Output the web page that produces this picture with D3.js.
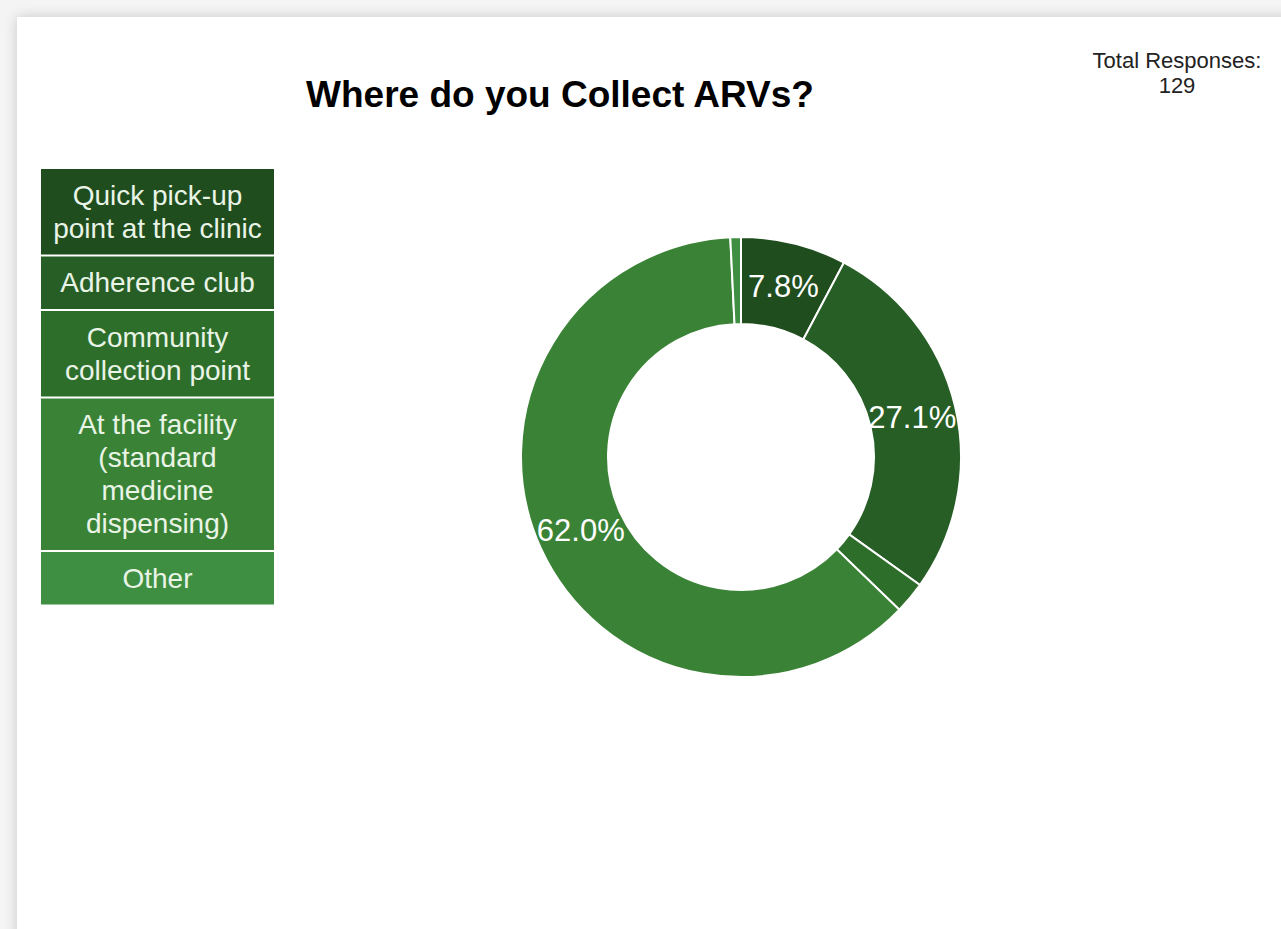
<!DOCTYPE html>
<meta charset="utf-8">
<style>
  body {
    margin: 0;
    background: #f4f4f4;
    font-family: Arial, "Liberation Sans", sans-serif;
    overflow: hidden;
  }
  .card {
    position: absolute;
    left: 17px;
    top: 17px;
    width: 1300px;
    height: 950px;
    background: #fff;
    box-shadow: 0 0 12px rgba(0, 0, 0, 0.18);
  }
  svg {
    position: absolute;
    left: 0;
    top: 0;
  }
  .legend-text {
    fill: #e9f4e7;
    font-size: 28px;
  }
  .slice-label {
    fill: #fff;
    font-size: 31px;
  }
</style>
<body>
<div class="card"></div>
<script src="https://cdn.jsdelivr.net/npm/d3@7"></script>
<script>
// responses per answer (total 129)
var categories = ["Quick pick-up point at the clinic", "Adherence club", "Community collection point", "At the facility (standard medicine dispensing)", "Other"];
var counts = [10, 35, 3, 80, 1];
var legendLines = [
  ["Quick pick-up", "point at the clinic"],
  ["Adherence club"],
  ["Community", "collection point"],
  ["At the facility", "(standard", "medicine", "dispensing)"],
  ["Other"]
];
var colours = ["#1f4d1e", "#275e25", "#2e6e2b", "#3a8336", "#3f8f42"];

var width = 1281,
    height = 929;

var total = d3.sum(counts);

var svg = d3.select("body")
            .append("svg")
            .attr("width", width)
            .attr("height", height);

var color = d3.scaleOrdinal()
    .domain(categories)
    .range(colours);

// title
svg.append("text")
    .attr("x", 560)
    .attr("y", 107)
    .attr("text-anchor", "middle")
    .style("font-size", "37px")
    .style("font-weight", "bold")
    .style("fill", "#000")
    .text("Where do you Collect ARVs?");

// total responses
var tot = svg.append("text")
    .attr("text-anchor", "middle")
    .style("font-size", "22px")
    .style("fill", "#222");
tot.append("tspan").attr("x", 1177).attr("y", 68).text("Total Responses:");
tot.append("tspan").attr("x", 1177).attr("y", 93).text(total);

// legend boxes
var lineH = 33, gap = 2;
var legend = svg.append("g").attr("transform", "translate(41,169)");
var yPos = 0;
categories.forEach(function(c, i) {
  var lines = legendLines[i];
  var h = lines.length * lineH + 19.5;
  var g = legend.append("g").attr("transform", "translate(0," + yPos + ")");
  g.append("rect")
    .attr("width", 233)
    .attr("height", h)
    .style("fill", color(c));
  var t = g.append("text")
    .attr("class", "legend-text")
    .attr("text-anchor", "middle");
  lines.forEach(function(l, j) {
    t.append("tspan")
      .attr("x", 116.5)
      .attr("y", (h - lines.length * lineH) / 2 + lineH * j + 26)
      .text(l);
  });
  yPos += h + gap;
});

// donut
var cx = 741, cy = 457, outerR = 220, innerR = 133;

var pie = d3.pie().sort(null).value(function(d) { return d.value; });
var arc = d3.arc().innerRadius(innerR).outerRadius(outerR);
var labelArc = d3.arc().innerRadius(176).outerRadius(176);

var data = categories.map(function(c, i) { return {name: c, value: counts[i]}; });

var donut = svg.append("g").attr("transform", "translate(" + cx + "," + cy + ")");

donut.selectAll("path")
    .data(pie(data))
  .enter().append("path")
    .attr("d", arc)
    .style("fill", function(d) { return color(d.data.name); })
    .style("stroke", "#fff")
    .style("stroke-width", 2);

donut.selectAll("text")
    .data(pie(data).filter(function(d) { return d.data.value / total > 0.05; }))
  .enter().append("text")
    .attr("class", "slice-label")
    .attr("transform", function(d) { return "translate(" + labelArc.centroid(d) + ")"; })
    .attr("text-anchor", "middle")
    .attr("dy", "0.35em")
    .text(function(d) { return d3.format(".1%")(d.data.value / total); });
</script>
</body>
</html>
